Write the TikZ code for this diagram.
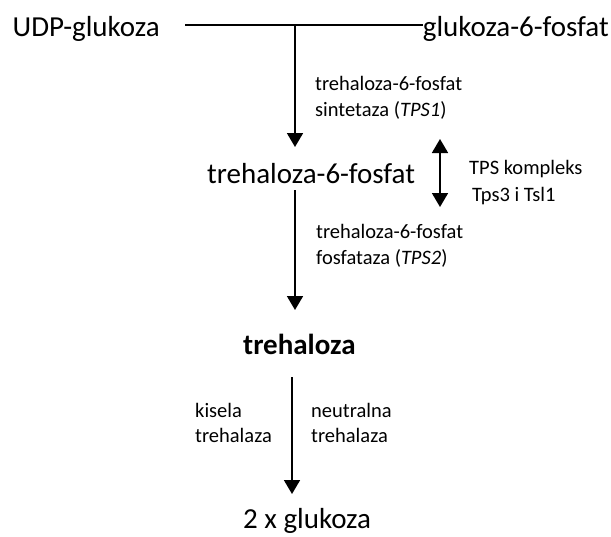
\documentclass[tikz,border=0pt]{standalone}
\usepackage{fontspec}
\setmainfont{Carlito}
\usetikzlibrary{arrows.meta}
\tikzset{
  big/.style={inner sep=0pt, anchor=base west, font=\fontsize{29}{34}\selectfont},
  small/.style={inner sep=0pt, anchor=base west, font=\fontsize{20.5}{25}\selectfont},
  conn/.style={line width=1.3pt},
  rxn/.style={line width=1.8pt, -{Triangle[width=16pt,length=14pt]}},
  dbl/.style={line width=1.8pt, {Triangle[width=16pt,length=14pt]}-{Triangle[width=16pt,length=14pt]}}
}
\begin{document}
\begin{tikzpicture}[x=1pt,y=-1pt]
\useasboundingbox (0,0) rectangle (611,536);
% main metabolites
\node[big] (udp) at (12.5,36) {UDP-glukoza};
\node[big, anchor=base east] (g6p) at (609,36) {glukoza-6-fosfat};
\node[big] (t6p) at (207,183) {trehaloza-6-fosfat};
\node[big, font=\fontsize{29}{34}\selectfont\bfseries] (tre) at (243,354) {trehaloza};
\node[big] (glc) at (243,528.5) {2 x glukoza};
% junction points
\coordinate (ls) at (185,25);
\coordinate (le) at (g6p.west |- ls);
\coordinate (j) at (295,25);
\coordinate (t6pin) at (295,147);
\coordinate (t6pout) at (295,190);
\coordinate (trein) at (295,310);
\coordinate (treout) at (292,377);
\coordinate (glcin) at (292,494);
\coordinate (dtop) at (440,139);
\coordinate (dbot) at (440,207);
% connectors
\draw[conn] (ls) -- (le);
\draw[rxn] (j) -- (t6pin);
\draw[rxn] (t6pout) -- (trein);
\draw[rxn] (treout) -- (glcin);
\draw[dbl] (dtop) -- (dbot);
% labels
\node[small] (e1a) at (315,90) {trehaloza-6-fosfat};
\node[small] (e1b) at (315,116) {sintetaza (\textit{TPS1})};
\node[small] (cxa) at (469,174) {TPS kompleks};
\node[small] (cxb) at (472,201) {Tps3 i Tsl1};
\node[small] (e2a) at (316,238) {trehaloza-6-fosfat};
\node[small] (e2b) at (316,264) {fosfataza (\textit{TPS2})};
\node[small] (ka) at (195,417) {kisela};
\node[small] (kb) at (195,442) {trehalaza};
\node[small] (na) at (311,417) {neutralna};
\node[small] (nb) at (311,442) {trehalaza};
\end{tikzpicture}
\end{document}
